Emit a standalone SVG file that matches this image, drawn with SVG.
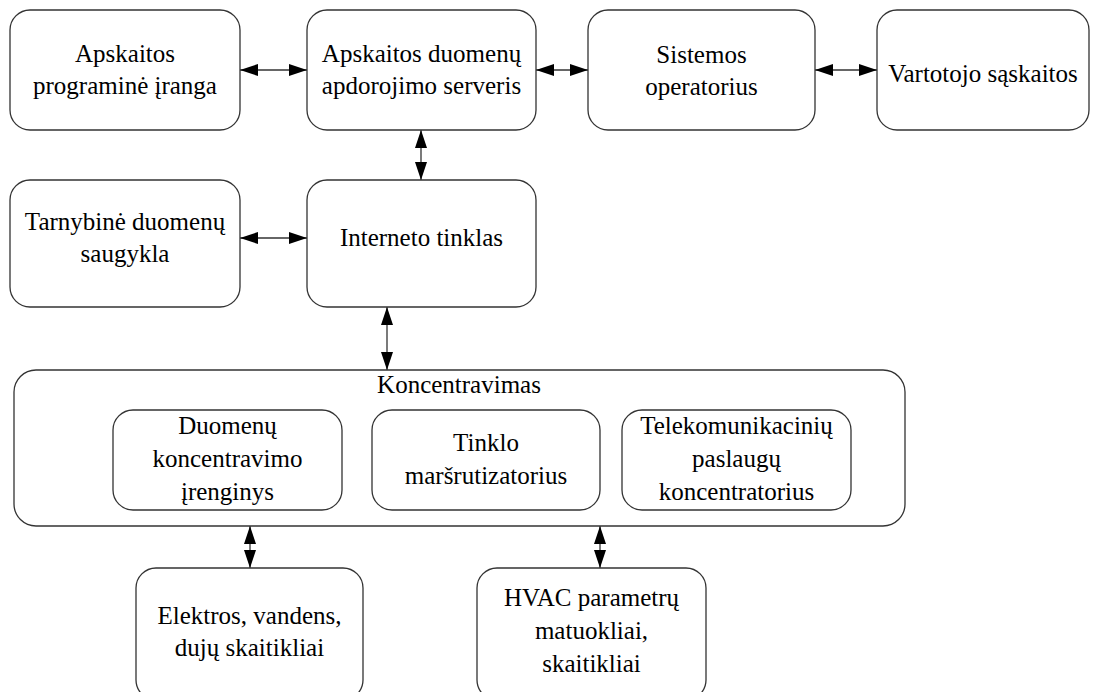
<svg xmlns="http://www.w3.org/2000/svg" width="1099" height="692" viewBox="0 0 1099 692">
<defs>
<style>
.box{fill:#fff;stroke:#333;stroke-width:1.3}
.t{font-family:'Liberation Serif','Times New Roman',serif;font-size:25px;fill:#000;text-anchor:middle}
.c{stroke:#333;stroke-width:1.3;fill:none;marker-start:url(#ah);marker-end:url(#ah)}
</style>
<marker id="ah" markerUnits="userSpaceOnUse" markerWidth="19" markerHeight="13" refX="18" refY="6" orient="auto-start-reverse">
<path d="M0,0 L18,6 L0,12 Z" fill="#000"/>
</marker>
</defs>
<rect width="1099" height="692" fill="#fff"/>
<g id="connectors">
<line class="c" x1="240" y1="70" x2="307" y2="70"/>
<line class="c" x1="536" y1="70" x2="588" y2="70"/>
<line class="c" x1="815" y1="70" x2="877" y2="70"/>
<line class="c" x1="421" y1="130" x2="421" y2="180"/>
<line class="c" x1="240" y1="238" x2="307" y2="238"/>
<line class="c" x1="387" y1="307" x2="387" y2="370"/>
<line class="c" x1="250" y1="526" x2="250" y2="568"/>
<line class="c" x1="600" y1="526" x2="600" y2="568"/>
</g>
<g id="n-apskaitos-programine">
<rect class="box" x="10" y="10" width="230" height="120" rx="20"/>
<text class="t" x="125" y="62">Apskaitos</text>
<text class="t" x="125" y="94">programinė įranga</text>
</g>
<g id="n-serveris">
<rect class="box" x="307" y="10" width="229" height="120" rx="20"/>
<text class="t" x="421.5" y="62">Apskaitos duomenų</text>
<text class="t" x="421.5" y="94">apdorojimo serveris</text>
</g>
<g id="n-operatorius">
<rect class="box" x="588" y="10" width="227" height="120" rx="20"/>
<text class="t" x="701.5" y="63">Sistemos</text>
<text class="t" x="701.5" y="95">operatorius</text>
</g>
<g id="n-vartotojo">
<rect class="box" x="877" y="10" width="212" height="120" rx="20"/>
<text class="t" x="983" y="82">Vartotojo sąskaitos</text>
</g>
<g id="n-saugykla">
<rect class="box" x="10" y="180" width="230" height="127" rx="20"/>
<text class="t" x="125" y="230">Tarnybinė duomenų</text>
<text class="t" x="125" y="262">saugykla</text>
</g>
<g id="n-internetas">
<rect class="box" x="307" y="180" width="229" height="127" rx="20"/>
<text class="t" x="421.5" y="246">Interneto tinklas</text>
</g>
<g id="n-koncentravimas">
<rect class="box" x="14" y="370" width="891" height="156" rx="22"/>
<text class="t" x="459" y="393">Koncentravimas</text>
</g>
<g id="n-duomenu-konc">
<rect class="box" x="113" y="410" width="229" height="100" rx="20"/>
<text class="t" x="227.5" y="434">Duomenų</text>
<text class="t" x="227.5" y="467">koncentravimo</text>
<text class="t" x="227.5" y="500">įrenginys</text>
</g>
<g id="n-marsrutizatorius">
<rect class="box" x="372" y="410" width="228" height="100" rx="20"/>
<text class="t" x="486" y="451">Tinklo</text>
<text class="t" x="486" y="484">maršrutizatorius</text>
</g>
<g id="n-telekom">
<rect class="box" x="622" y="410" width="229" height="100" rx="20"/>
<text class="t" x="736.5" y="434">Telekomunikacinių</text>
<text class="t" x="736.5" y="467">paslaugų</text>
<text class="t" x="736.5" y="500">koncentratorius</text>
</g>
<g id="n-elektros">
<rect class="box" x="136" y="568" width="227" height="132" rx="20"/>
<text class="t" x="249.5" y="624">Elektros, vandens,</text>
<text class="t" x="249.5" y="656">dujų skaitikliai</text>
</g>
<g id="n-hvac">
<rect class="box" x="477" y="568" width="229" height="132" rx="20"/>
<text class="t" x="591.5" y="606">HVAC parametrų</text>
<text class="t" x="591.5" y="639">matuokliai,</text>
<text class="t" x="591.5" y="672">skaitikliai</text>
</g>
</svg>
